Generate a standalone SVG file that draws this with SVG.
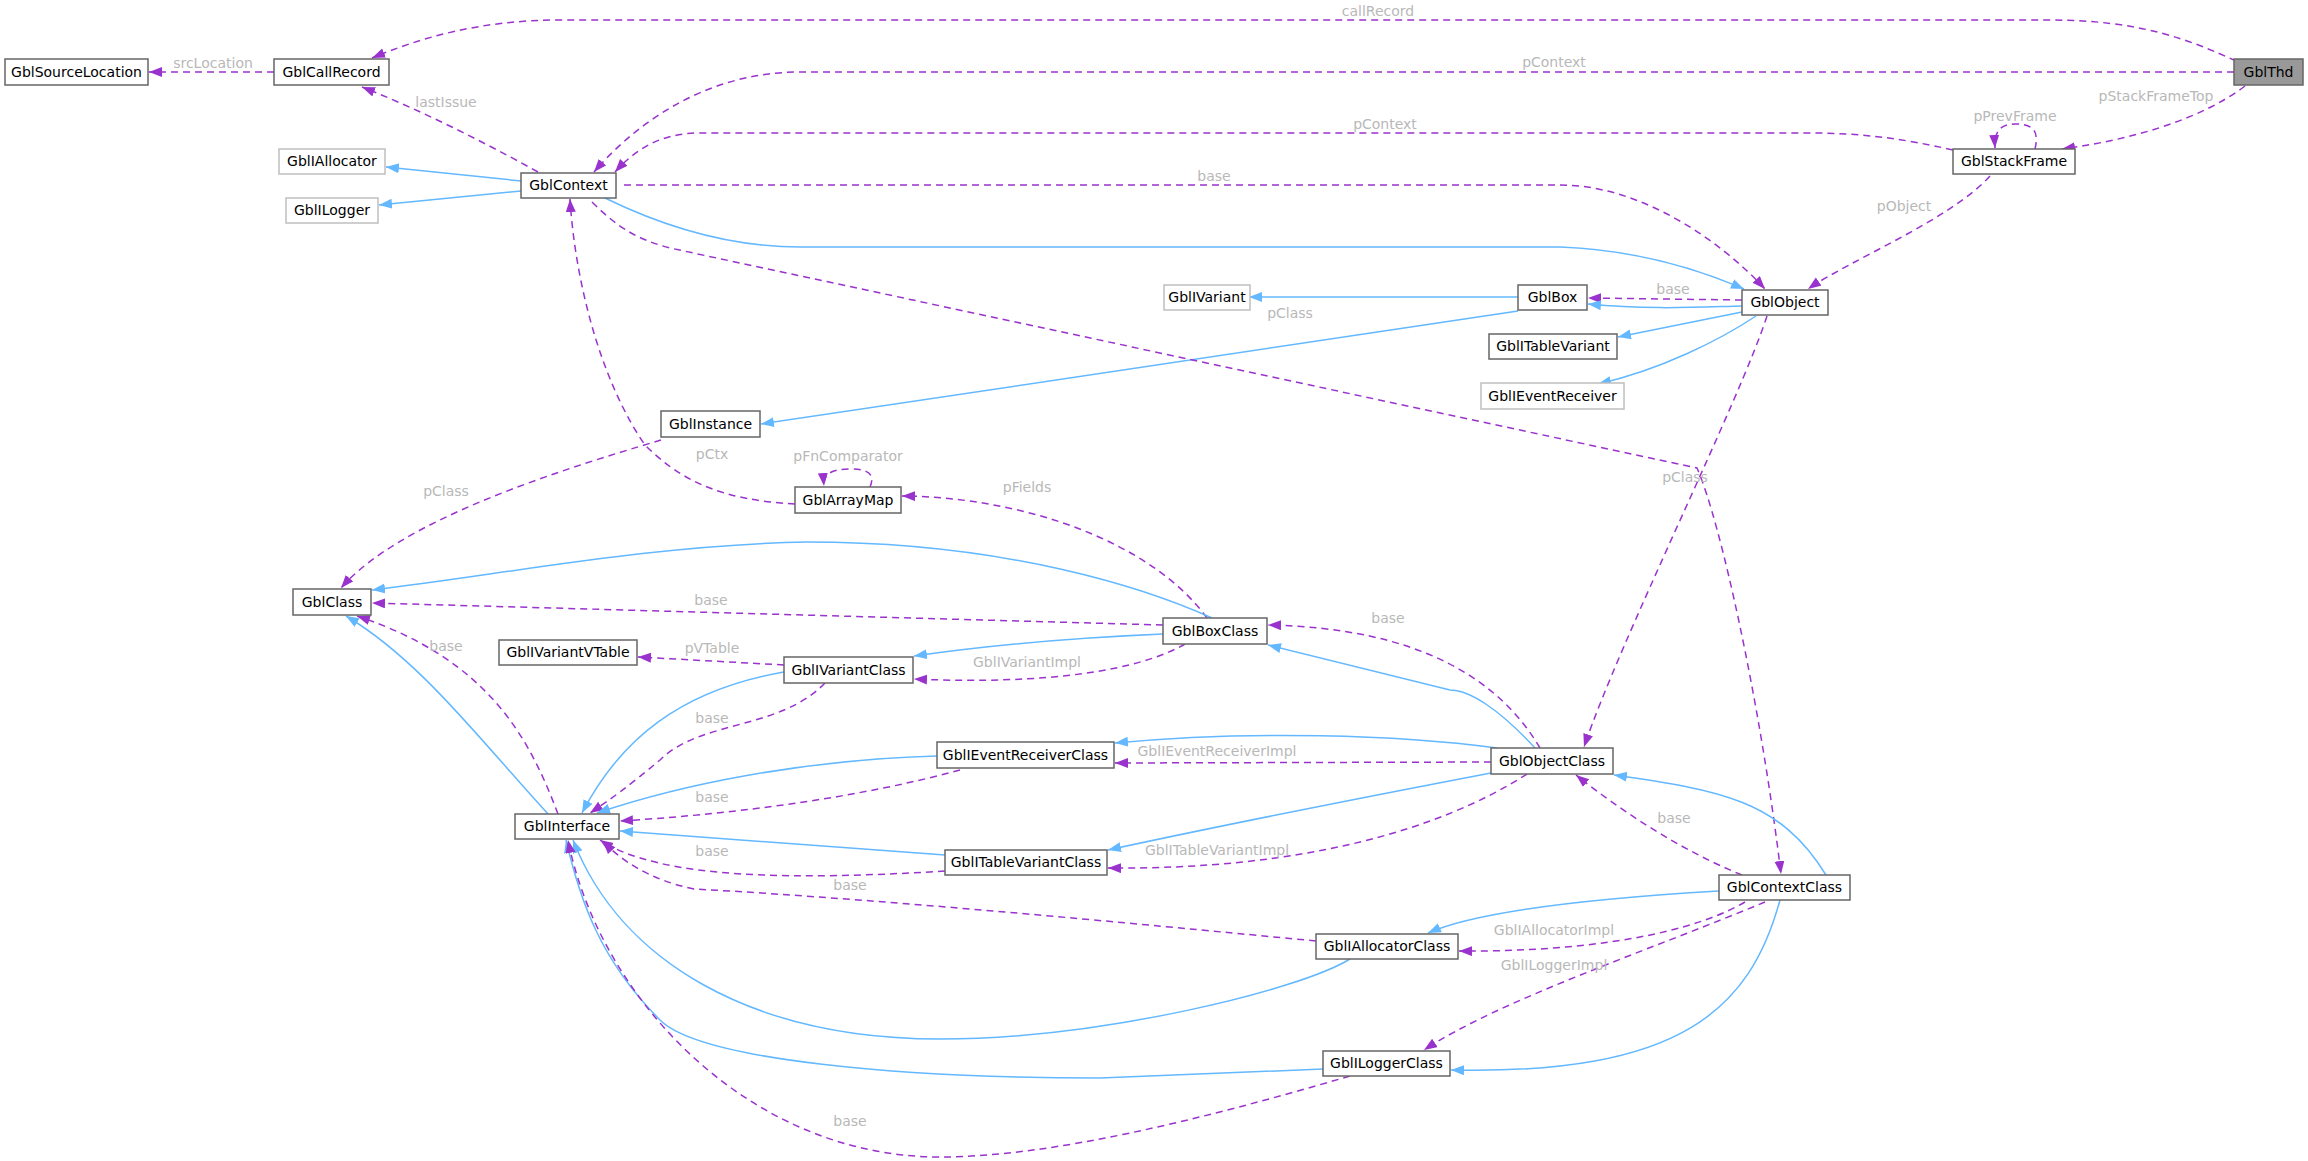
<svg xmlns="http://www.w3.org/2000/svg" width="2308" height="1161" viewBox="0 0 2308 1161">
<style>
.n rect{fill:#fff;stroke:#666;stroke-width:1.5}
.n.g rect{stroke:#bfbfbf}
.n.h rect{fill:#999}
.n text{font-family:"DejaVu Sans",sans-serif;font-size:14px;fill:#000;text-anchor:middle}
.b{fill:none;stroke:#63b8ff;stroke-width:1.5;marker-end:url(#ab)}
.p{fill:none;stroke:#9a32cd;stroke-width:1.5;stroke-dasharray:7,5;marker-end:url(#ap)}
.l{font-family:"DejaVu Sans",sans-serif;font-size:14px;fill:#b8b8b8;text-anchor:middle}
</style>
<defs>
<marker id="ab" markerUnits="userSpaceOnUse" markerWidth="14" markerHeight="12" refX="13" refY="5" orient="auto"><path d="M0,0 L13,5 L0,10 z" fill="#63b8ff"/></marker>
<marker id="ap" markerUnits="userSpaceOnUse" markerWidth="14" markerHeight="12" refX="13" refY="5" orient="auto"><path d="M0,0 L13,5 L0,10 z" fill="#9a32cd"/></marker>
</defs>
<rect width="2308" height="1161" fill="#fff"/>
<g id="connectors">
<path class="p" d="M2236,61 C2190,40 2140,20 2050,20 L560,20 C480,20 420,38 372,58"/>
<text class="l" x="1378" y="16">callRecord</text>
<path class="p" d="M2234,72 L800,72 C700,72 630,130 594,172"/>
<text class="l" x="1554" y="67">pContext</text>
<path class="p" d="M2245,86 C2200,120 2130,140 2062,149"/>
<text class="l" x="2156" y="101">pStackFrameTop</text>
<path class="p" d="M2035,149 C2040,128 2030,124 2015,124 C2000,124 1994,132 1995,148"/>
<text class="l" x="2015" y="121">pPrevFrame</text>
<path class="p" d="M1953,150 C1900,138 1860,133 1810,133 L700,133 C660,133 635,150 615,172"/>
<text class="l" x="1385" y="129">pContext</text>
<path class="p" d="M1990,176 C1950,220 1850,260 1808,289"/>
<text class="l" x="1904" y="211">pObject</text>
<path class="p" d="M538,172 C480,140 420,110 362,87"/>
<text class="l" x="446" y="107">lastIssue</text>
<path class="b" d="M521,181 L386,167"/>
<path class="b" d="M521,191 L379,205"/>
<path class="p" d="M274,72 L149,72"/>
<text class="l" x="213" y="68">srcLocation</text>
<path class="p" d="M624,185 L1560,185 C1640,185 1720,240 1765,289"/>
<text class="l" x="1214" y="181">base</text>
<path class="b" d="M605,198 C650,220 720,247 800,247 L1560,247 C1640,250 1700,270 1744,289"/>
<path class="p" d="M1742,300 L1588,298"/>
<text class="l" x="1673" y="294">base</text>
<path class="b" d="M1742,306 C1700,307 1650,310 1588,304"/>
<path class="b" d="M1518,297 L1249,297"/>
<path class="b" d="M1518,311 L761,424"/>
<path class="b" d="M1742,312 L1618,337"/>
<path class="b" d="M1756,316 C1720,340 1660,370 1598,384"/>
<path class="p" d="M592,202 C620,230 640,240 670,248 L1697,468 C1720,520 1760,700 1781,874"/>
<text class="l" x="1290" y="318">pClass</text>
<path class="p" d="M1767,316 C1740,400 1620,640 1584,747"/>
<text class="l" x="1685" y="482">pClass</text>
<path class="p" d="M661,440 C560,470 400,520 341,588"/>
<text class="l" x="446" y="496">pClass</text>
<path class="p" d="M795,504 C720,500 680,480 645,445 C600,380 575,280 570,199"/>
<text class="l" x="712" y="459">pCtx</text>
<path class="p" d="M870,487 C875,475 870,469 850,469 C830,469 823,475 824,486"/>
<text class="l" x="848" y="461">pFnComparator</text>
<path class="p" d="M1207,618 C1150,540 1020,497 902,496"/>
<text class="l" x="1027" y="492">pFields</text>
<path class="b" d="M1212,618 C1150,590 1010,542 807,542 C650,545 500,575 372,590"/>
<path class="p" d="M1163,625 L372,603"/>
<text class="l" x="711" y="605">base</text>
<path class="b" d="M1163,634 C1070,638 990,645 914,656"/>
<path class="p" d="M1185,644 C1140,670 1050,685 914,679"/>
<text class="l" x="1027" y="667">GblIVariantImpl</text>
<path class="p" d="M784,665 L638,657"/>
<text class="l" x="712" y="653">pVTable</text>
<path class="b" d="M784,672 C680,690 620,740 582,813"/>
<path class="p" d="M825,683 C780,730 700,720 660,760 C630,785 610,800 590,813"/>
<text class="l" x="712" y="723">base</text>
<path class="b" d="M548,814 C480,740 420,660 346,616"/>
<path class="p" d="M558,814 C530,740 490,660 357,616"/>
<text class="l" x="446" y="651">base</text>
<path class="p" d="M1540,748 C1500,680 1420,628 1268,625"/>
<text class="l" x="1388" y="623">base</text>
<path class="b" d="M1535,748 C1500,710 1470,690 1450,690 L1268,645"/>
<path class="b" d="M1497,748 C1400,735 1250,730 1115,743"/>
<path class="p" d="M1491,762 L1115,763"/>
<text class="l" x="1217" y="756">GblIEventReceiverImpl</text>
<path class="b" d="M1491,773 C1350,800 1200,830 1108,850"/>
<path class="p" d="M1527,774 C1440,830 1300,870 1108,868"/>
<text class="l" x="1217" y="855">GblITableVariantImpl</text>
<path class="b" d="M937,756 C800,760 680,785 597,813"/>
<path class="p" d="M960,770 C850,800 720,815 620,821"/>
<text class="l" x="712" y="802">base</text>
<path class="b" d="M945,855 L620,831"/>
<path class="p" d="M945,871 C800,880 660,880 600,840"/>
<text class="l" x="712" y="856">base</text>
<path class="p" d="M1316,941 C1200,930 900,900 694,889 C650,880 620,860 603,841"/>
<text class="l" x="850" y="890">base</text>
<path class="b" d="M1350,959 C1300,990 1100,1039 940,1039 C750,1039 620,960 573,840"/>
<path class="b" d="M1323,1069 L1100,1078 C900,1078 700,1060 660,1020 C600,960 580,900 566,840"/>
<path class="p" d="M1350,1076 C1200,1120 1050,1157 940,1157 C750,1157 600,1000 568,840"/>
<text class="l" x="850" y="1126">base</text>
<path class="b" d="M1826,875 C1780,800 1720,790 1614,775"/>
<path class="p" d="M1742,875 C1680,850 1620,810 1576,775"/>
<text class="l" x="1674" y="823">base</text>
<path class="b" d="M1719,891 C1600,898 1480,910 1428,933"/>
<path class="p" d="M1745,902 C1680,940 1560,952 1459,951"/>
<text class="l" x="1554" y="935">GblIAllocatorImpl</text>
<path class="p" d="M1765,902 C1650,950 1500,1000 1424,1050"/>
<text class="l" x="1554" y="970">GblILoggerImpl</text>
<path class="b" d="M1780,900 C1750,1010 1680,1075 1451,1070"/>
</g>
<g id="GblSourceLocation" class="n"><rect x="5" y="59" width="143" height="26"/><text x="76.5" y="77">GblSourceLocation</text></g>
<g id="GblCallRecord" class="n"><rect x="274" y="59" width="115" height="26"/><text x="331.5" y="77">GblCallRecord</text></g>
<g id="GblThd" class="n h"><rect x="2234" y="59" width="69" height="26"/><text x="2268.5" y="77">GblThd</text></g>
<g id="GblIAllocator" class="n g"><rect x="279" y="149" width="106" height="25"/><text x="332" y="166">GblIAllocator</text></g>
<g id="GblILogger" class="n g"><rect x="286" y="198" width="92" height="25"/><text x="332" y="215">GblILogger</text></g>
<g id="GblContext" class="n"><rect x="521" y="173" width="95" height="25"/><text x="568.5" y="190">GblContext</text></g>
<g id="GblStackFrame" class="n"><rect x="1953" y="149" width="122" height="25"/><text x="2014" y="166">GblStackFrame</text></g>
<g id="GblIVariant" class="n g"><rect x="1164" y="285" width="86" height="25"/><text x="1207" y="302">GblIVariant</text></g>
<g id="GblBox" class="n"><rect x="1518" y="285" width="69" height="25"/><text x="1552.5" y="302">GblBox</text></g>
<g id="GblObject" class="n"><rect x="1742" y="290" width="86" height="25"/><text x="1785" y="307">GblObject</text></g>
<g id="GblITableVariant" class="n"><rect x="1489" y="334" width="128" height="25"/><text x="1553" y="351">GblITableVariant</text></g>
<g id="GblIEventReceiver" class="n g"><rect x="1481" y="383" width="143" height="26"/><text x="1552.5" y="401">GblIEventReceiver</text></g>
<g id="GblInstance" class="n"><rect x="661" y="411" width="99" height="26"/><text x="710.5" y="429">GblInstance</text></g>
<g id="GblArrayMap" class="n"><rect x="795" y="487" width="106" height="26"/><text x="848" y="505">GblArrayMap</text></g>
<g id="GblClass" class="n"><rect x="293" y="589" width="78" height="26"/><text x="332" y="607">GblClass</text></g>
<g id="GblBoxClass" class="n"><rect x="1163" y="618" width="104" height="26"/><text x="1215" y="636">GblBoxClass</text></g>
<g id="GblIVariantVTable" class="n"><rect x="499" y="640" width="138" height="25"/><text x="568" y="657">GblIVariantVTable</text></g>
<g id="GblIVariantClass" class="n"><rect x="784" y="657" width="129" height="26"/><text x="848.5" y="675">GblIVariantClass</text></g>
<g id="GblIEventReceiverClass" class="n"><rect x="937" y="742" width="177" height="26"/><text x="1025.5" y="760">GblIEventReceiverClass</text></g>
<g id="GblObjectClass" class="n"><rect x="1491" y="748" width="122" height="26"/><text x="1552" y="766">GblObjectClass</text></g>
<g id="GblInterface" class="n"><rect x="515" y="814" width="104" height="25"/><text x="567" y="831">GblInterface</text></g>
<g id="GblITableVariantClass" class="n"><rect x="945" y="850" width="162" height="25"/><text x="1026" y="867">GblITableVariantClass</text></g>
<g id="GblContextClass" class="n"><rect x="1719" y="875" width="131" height="25"/><text x="1784.5" y="892">GblContextClass</text></g>
<g id="GblIAllocatorClass" class="n"><rect x="1316" y="934" width="142" height="25"/><text x="1387" y="951">GblIAllocatorClass</text></g>
<g id="GblILoggerClass" class="n"><rect x="1323" y="1051" width="127" height="25"/><text x="1386.5" y="1068">GblILoggerClass</text></g>
</svg>
